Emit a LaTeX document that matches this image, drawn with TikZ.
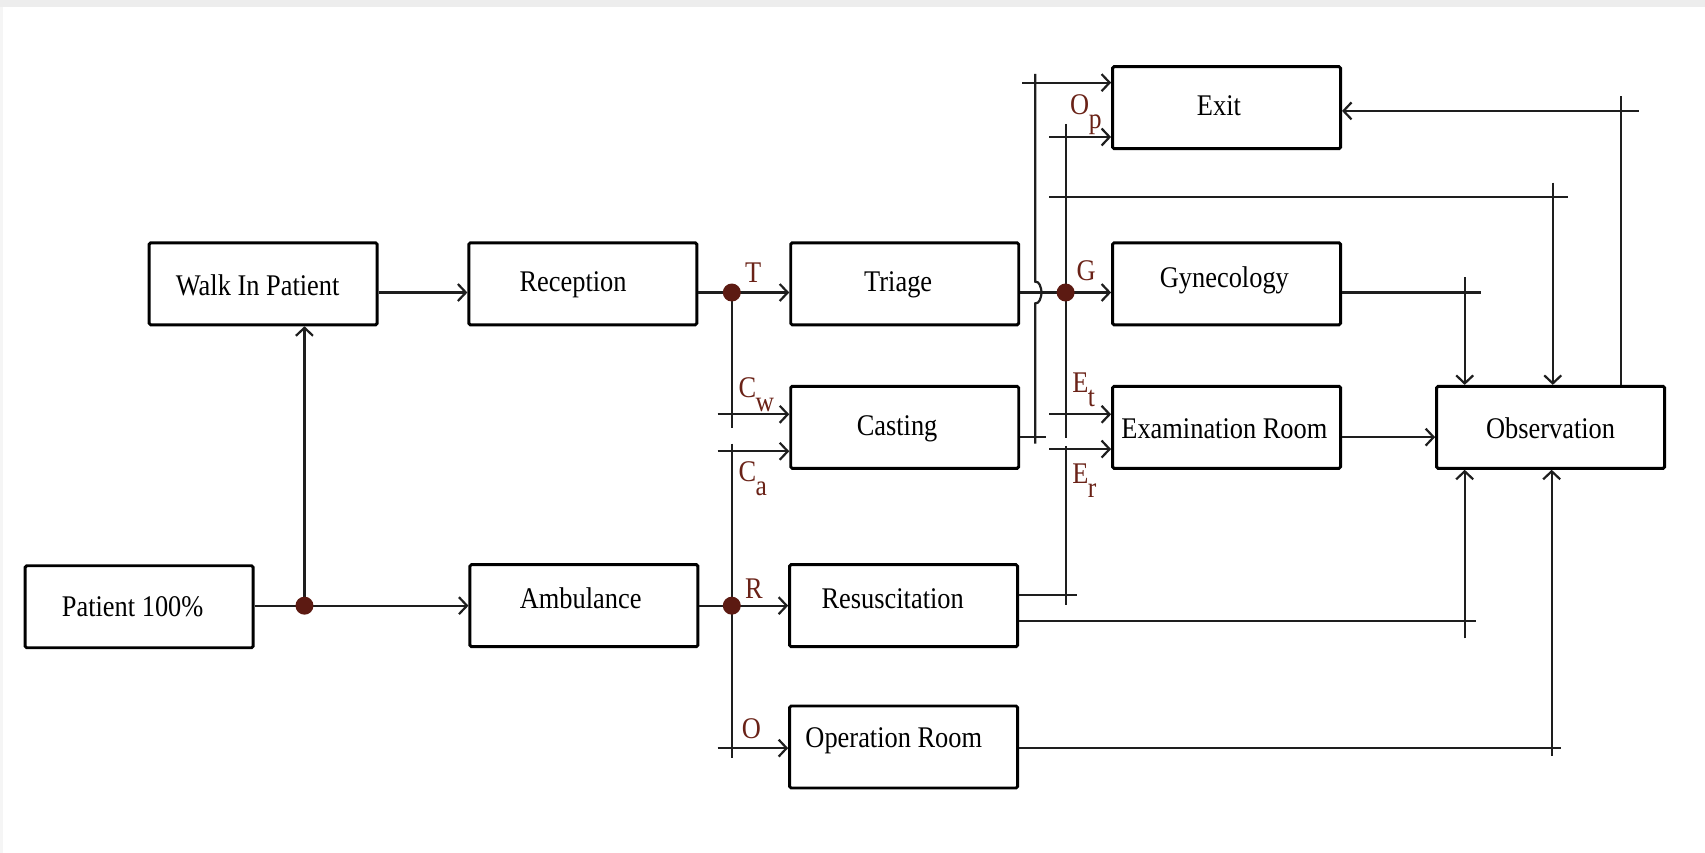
\documentclass[tikz,border=0pt]{standalone}
\usepackage{fontspec}
\setmainfont[FakeStretch=0.88]{Liberation Serif}
\usetikzlibrary{arrows.meta}
\definecolor{ln}{HTML}{1E1E1E}
\definecolor{dotc}{HTML}{5C1A12}
\definecolor{lblc}{HTML}{6A2217}
% letter with a lowered index
\newcommand{\idx}[2]{#1\kern-0.5pt\raisebox{-14pt}{\fontsize{29}{29}\selectfont #2}}
\begin{document}
\begin{tikzpicture}[x=1.0874pt,y=-1.0874pt,
  box/.style={draw=black,line width=2.9pt,rounded corners=1.5pt,fill=white,
    minimum width=228pt,minimum height=82pt,inner sep=0pt},
  btext/.style={font=\fontsize{30}{33}\selectfont,text=black},
  con/.style={draw=ln,line width=2.2pt},
  arr/.style={con,-{Straight Barb[length=8pt,width=17pt]}},
  jdot/.style={circle,fill=dotc,inner sep=0pt,minimum size=18pt},
  tag/.style={font=\fontsize{30}{32}\selectfont,text=lblc,inner sep=0pt,anchor=base west}]

% page and frame
\useasboundingbox (0,0) rectangle (1568,784);
\fill[white] (0,0) rectangle (1568,784);
\fill[gray!14] (0,0) rectangle (1568,6);
\fill[gray!8] (0,6) rectangle (2.5,784);

% boxes
\newcommand{\bx}[5]{\node[box,label={[btext,shift={(#4,#5)}]center:#3}] (#1) at #2 {};}
\bx{walk}{(242,261)}{Walk In Patient}{-5}{1}
\bx{rec}{(536,261)}{Reception}{-9}{1}
\bx{tri}{(832,261)}{Triage}{-6}{1}
\bx{cas}{(832,393)}{Casting}{-7}{1}
\bx{res}{(831,557)}{Resuscitation}{-10}{-6}
\bx{opr}{(831,687)}{Operation Room}{-9}{-6}
\bx{pat}{(128,558)}{Patient 100\%}{-6}{0}
\bx{amb}{(537,557)}{Ambulance}{-3}{-7}
\bx{exit}{(1128,99)}{Exit}{-7}{-2}
\bx{gyn}{(1128,261)}{Gynecology}{-2}{-3}
\bx{exam}{(1128,393)}{Examination Room}{-2}{1}
\bx{obs}{(1426,393)}{Observation}{0}{1}

% junction points
\coordinate (jP) at (280,557);
\coordinate (jT) at (673,269);
\coordinate (jR) at (673,557);
\coordinate (jG) at (980,269);

% patient split
\draw[arr] (pat.east |- jP) -- (amb.west |- jP);
\draw[arr] (jP) -- (jP |- walk.south);
\draw[arr] (walk.east |- jT) -- (rec.west |- jT);

% reception and ambulance distribution
\draw[arr] (rec.east |- jT) -- (tri.west |- jT);
\draw[arr] (amb.east |- jR) -- (res.west |- jR);
\draw[con] (jT) -- (673,394);
\draw[con] (673,408) -- (673,697);
\draw[arr] (660,381) -- (cas.west |- 0,381);
\draw[arr] (660,415) -- (cas.west |- 0,415);
\draw[arr] (660,688) -- (opr.west |- 0,688);

% triage to gynecology, hopping over the casting line
\draw[con] (tri.east |- jG) -- (jG);
\draw[arr] (jG) -- (gyn.west |- jG);
\draw[con] (952,408) -- (952,279) .. controls (956,279) and (957,275) .. (958,269)
  .. controls (957,263) and (956,259) .. (952,259) -- (952,68);
\draw[arr] (940,76) -- (exit.west |- 0,76);
\draw[con] (cas.east |- 0,402) -- (962,402);

% second collector
\draw[con] (980,114) -- (980,403);
\draw[con] (980,410) -- (980,556);
\draw[arr] (965,126) -- (exit.west |- 0,126);
\draw[con] (965,181) -- (1442,181);
\draw[arr] (965,381) -- (exam.west |- 0,381);
\draw[arr] (965,413) -- (exam.west |- 0,413);
\draw[con] (res.east |- 0,547) -- (990,547);

% into observation
\draw[arr] (1428,168) -- (1428,0 |- obs.north);
\draw[con] (gyn.east |- 0,269) -- (1362,269);
\draw[arr] (1347,255) -- (1347,0 |- obs.north);
\draw[arr] (exam.east |- 0,402) -- (obs.west |- 0,402);
\draw[con] (res.east |- 0,571) -- (1357,571);
\draw[arr] (1347,587) -- (1347,0 |- obs.south);
\draw[con] (opr.east |- 0,688) -- (1436,688);
\draw[arr] (1427,695) -- (1427,0 |- obs.south);

% observation back to exit
\draw[con] (1491,0 |- obs.north) -- (1491,88);
\draw[arr] (1507,102) -- (exit.east |- 0,102);

% junction dots
\foreach \j in {jP,jT,jR,jG} \node[jdot] at (\j) {};

% branch labels
\node[tag] (lT) at (685,260) {T};
\node[tag] (lG) at (990,258) {G};
\node[tag] (lR) at (685,550) {R};
\node[tag] (lO) at (682,679) {O};
\node[tag] (lCw) at (679,366) {\idx{C}{w}};
\node[tag] (lCa) at (679,443) {\idx{C}{a}};
\node[tag] (lOp) at (984,105) {\idx{O}{p}};
\node[tag] (lEt) at (986,361) {\idx{E}{t}};
\node[tag] (lEr) at (986,445) {\idx{E}{r}};
\end{tikzpicture}
\end{document}
